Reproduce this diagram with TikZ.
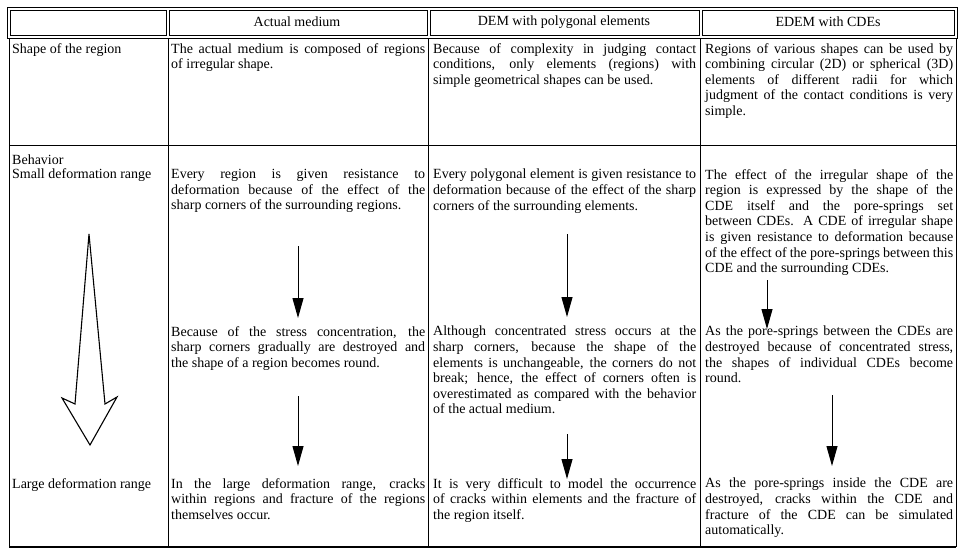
\documentclass[tikz,border=0pt]{standalone}
\usepackage{fontspec}
\setmainfont{Liberation Serif}
\usetikzlibrary{arrows.meta}
\newcommand{\cellfont}{\fontsize{14}{15.6}\selectfont}

\begin{document}
\begin{tikzpicture}[x=1pt,y=-1pt,
          cell/.style={anchor=north west,inner sep=0pt,align=justify,font=\cellfont},
          actual/.style={cell,text width=254pt},
          dem/.style={cell,text width=263pt},
          edem/.style={cell,text width=248pt},
          lab/.style={anchor=north west,inner sep=0pt,align=left,font=\cellfont},
          head/.style={inner sep=0pt,font=\cellfont},
          rule/.style={line width=0.8pt},
          flow/.style={line width=1pt,-{Triangle[length=20pt,width=11pt]}},
          hollow/.style={line width=1.1pt,line join=miter}
        ]
        \useasboundingbox (0,0) rectangle (959,549);

        %header
        \draw[rule] (7,7) rectangle (957,38);
        \draw[rule] (10,10) rectangle (166,35);
        \draw[rule] (169,10) rectangle (427,35);
        \draw[rule] (430,10) rectangle (699,35);
        \draw[rule] (702,10) rectangle (954,35);
        \node[head] (h2) at (297,22) {Actual medium};
        \node[head] (h3) at (564,22) {DEM with polygonal elements};
        \node[head] (h4) at (828,22) {EDEM with CDEs};

        %grid
        \draw[rule] (9,38) -- (9,547);
        \draw[rule] (168,38) -- (168,547);
        \draw[rule] (428,38) -- (428,547);
        \draw[rule] (700,38) -- (700,547);
        \draw[rule] (956,38) -- (956,547);
        \draw[rule] (9,145) -- (956,145);
        \draw[line width=1.3pt] (9,547) -- (956,547);

        %labels
        \node[lab] (r1) at (12,43) {Shape of the region};
        \node[lab] (r2) at (12,155) {Behavior\\[-2pt]Small deformation range};
        \node[lab] (r3) at (12,478) {Large deformation range};

        %shape of the region
        \node[actual] (s2) at (171,43) {The actual medium is composed of regions\linebreak of irregular shape.};
        \node[dem] (s3) at (433,43) {Because of complexity in judging contact\linebreak conditions, only elements (regions) with\linebreak simple geometrical shapes can be used.};
        \node[edem] (s4) at (705,43) {Regions of various shapes can be used by\linebreak combining circular (2D) or spherical (3D)\linebreak elements of different radii for which\linebreak judgment of the contact conditions is very\linebreak simple.};

        %small deformation
        \node[actual] (a2) at (171,169) {Every region is given resistance to\linebreak deformation because of the effect of the\linebreak sharp corners of the surrounding regions.};
        \node[dem] (a3) at (433,169) {Every polygonal element is given resistance to\linebreak deformation because of the effect of the sharp\linebreak corners of the surrounding elements.};
        \node[edem] (a4) at (705,169) {The effect of the irregular shape of the\linebreak region is expressed by the shape of the\linebreak CDE itself and the pore-springs set\linebreak between CDEs. A CDE of irregular shape\linebreak is given resistance to deformation because\linebreak of the effect of the pore-springs between this\linebreak CDE and the surrounding CDEs.};

        %middle
        \node[actual] (b2) at (171,326) {Because of the stress concentration, the\linebreak sharp corners gradually are destroyed and\linebreak the shape of a region becomes round.};
        \node[dem] (b3) at (433,326) {Although concentrated stress occurs at the\linebreak sharp corners, because the shape of the\linebreak elements is unchangeable, the corners do not\linebreak break; hence, the effect of corners often is\linebreak overestimated as compared with the behavior\linebreak of the actual medium.};
        \node[edem] (b4) at (705,326) {As the pore-springs between the CDEs are\linebreak destroyed because of concentrated stress,\linebreak the shapes of individual CDEs become\linebreak round.};

        %large deformation
        \node[actual] (c2) at (171,478) {In the large deformation range, cracks\linebreak within regions and fracture of the regions\linebreak themselves occur.};
        \node[dem] (c3) at (433,478) {It is very difficult to model the occurrence\linebreak of cracks within elements and the fracture of\linebreak the region itself.};
        \node[edem] (c4) at (705,478) {As the pore-springs inside the CDE are\linebreak destroyed, cracks within the CDE and\linebreak fracture of the CDE can be simulated\linebreak automatically.};

        %arrows
        \coordinate (p1) at (298,246);
        \coordinate (q1) at (298,318);
        \coordinate (p2) at (298,396);
        \coordinate (q2) at (298,466);
        \coordinate (p3) at (567,234);
        \coordinate (q3) at (567,317);
        \coordinate (p4) at (567,434);
        \coordinate (q4) at (567,479);
        \coordinate (p5) at (767,280);
        \coordinate (q5) at (767,329);
        \coordinate (p6) at (832,395);
        \coordinate (q6) at (832,466);
        \draw[flow] (p1) -- (q1);
        \draw[flow] (p2) -- (q2);
        \draw[flow] (p3) -- (q3);
        \draw[flow] (p4) -- (q4);
        \draw[flow] (p5) -- (q5);
        \draw[flow] (p6) -- (q6);

        %behavior arrow
        \draw[hollow] (89,234) -- (105,404) -- (117,397) -- (90,445) -- (62,398) -- (75,404) -- cycle;
    \end{tikzpicture}
\end{document}
